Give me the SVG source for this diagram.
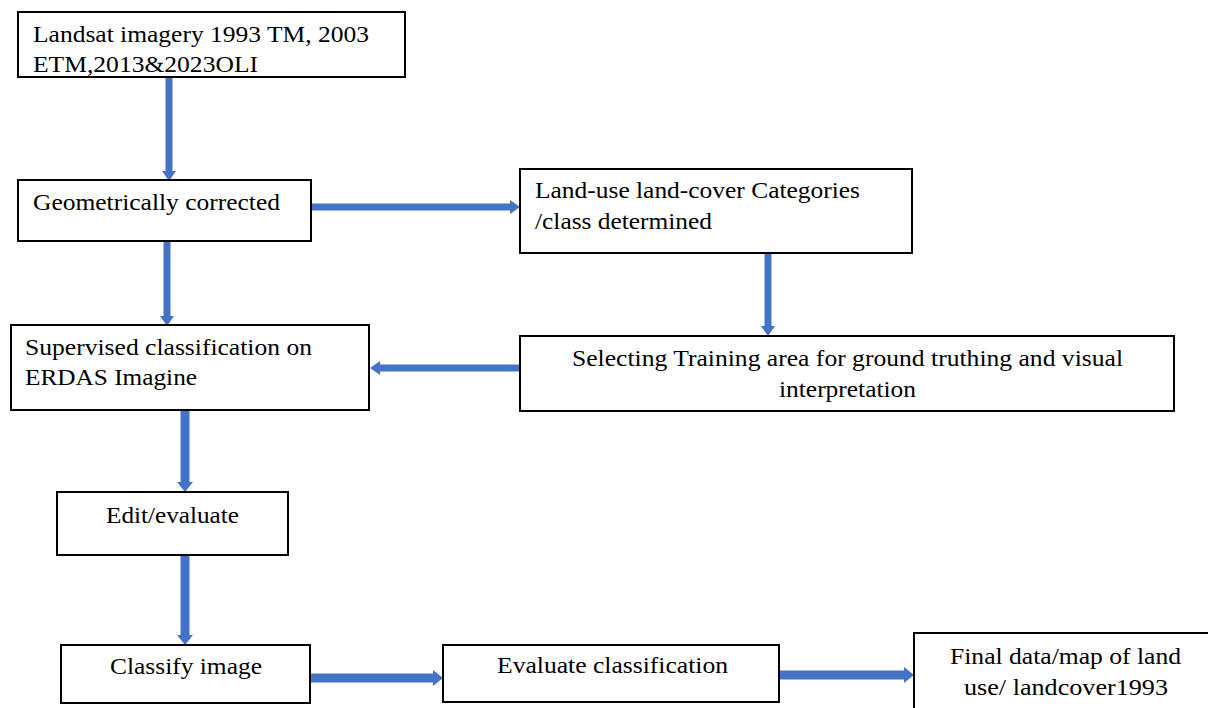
<svg xmlns="http://www.w3.org/2000/svg" width="1208" height="708" viewBox="0 0 1208 708">
<defs>
<style>
.box{fill:#fff;stroke:#000;stroke-width:2}
.t{font-family:"Liberation Serif","Times New Roman",serif;font-size:24px;fill:#000}
.c{text-anchor:middle}
.ln{stroke:#4472C4;stroke-width:7;fill:none}
.hd{fill:#4472C4}
</style>
</defs>
<rect width="1208" height="708" fill="#fff"/>
<g id="connectors">
<line class="ln" x1="169" y1="77" x2="169" y2="172"/><polygon class="hd" points="162,171 176,171 169,181"/>
<line class="ln" x1="311" y1="207" x2="511" y2="207"/><polygon class="hd" points="510,200 510,214 520,207"/>
<line class="ln" x1="768" y1="253" x2="768" y2="327"/><polygon class="hd" points="761,326 775,326 768,336"/>
<line class="ln" x1="520" y1="368" x2="379" y2="368"/><polygon class="hd" points="380,361 380,375 370,368"/>
<line class="ln" x1="167" y1="241" x2="167" y2="317"/><polygon class="hd" points="160,316 174,316 167,326"/>
<line class="ln" style="stroke-width:9" x1="185" y1="410" x2="185" y2="483"/><polygon class="hd" points="177,482 193,482 185,492"/>
<line class="ln" style="stroke-width:9" x1="185" y1="555" x2="185" y2="636"/><polygon class="hd" points="177,635 193,635 185,645"/>
<line class="ln" style="stroke-width:9" x1="310" y1="678" x2="434" y2="678"/><polygon class="hd" points="433,670 433,686 443,678"/>
<line class="ln" style="stroke-width:9" x1="779" y1="675" x2="905" y2="675"/><polygon class="hd" points="904,667 904,683 914,675"/>
</g>
<g id="n1"><rect class="box" x="18" y="12" width="387" height="65"/><text class="t" x="33" y="42" textLength="336" lengthAdjust="spacingAndGlyphs">Landsat imagery 1993 TM, 2003</text><text class="t" x="33" y="72" textLength="225" lengthAdjust="spacingAndGlyphs">ETM,2013&amp;2023OLI</text></g>
<g id="n2"><rect class="box" x="18" y="180" width="293" height="61"/><text class="t" x="33" y="210" textLength="247" lengthAdjust="spacingAndGlyphs">Geometrically corrected</text></g>
<g id="n3"><rect class="box" x="520" y="169" width="392" height="84"/><text class="t" x="535" y="198" textLength="325" lengthAdjust="spacingAndGlyphs">Land-use land-cover Categories</text><text class="t" x="535" y="229" textLength="177" lengthAdjust="spacingAndGlyphs">/class determined</text></g>
<g id="n4"><rect class="box" x="520" y="336" width="654" height="75"/><text class="t c" x="847.5" y="366" textLength="551" lengthAdjust="spacingAndGlyphs">Selecting Training area for ground truthing and visual</text><text class="t c" x="847.5" y="397" textLength="137" lengthAdjust="spacingAndGlyphs">interpretation</text></g>
<g id="n5"><rect class="box" x="11" y="325" width="358" height="85"/><text class="t" x="25" y="355" textLength="287" lengthAdjust="spacingAndGlyphs">Supervised classification on</text><text class="t" x="25" y="385" textLength="172" lengthAdjust="spacingAndGlyphs">ERDAS Imagine</text></g>
<g id="n6"><rect class="box" x="57" y="492" width="231" height="63"/><text class="t c" x="172.5" y="523" textLength="133" lengthAdjust="spacingAndGlyphs">Edit/evaluate</text></g>
<g id="n7"><rect class="box" x="61" y="645" width="249" height="58"/><text class="t c" x="186" y="674" textLength="152" lengthAdjust="spacingAndGlyphs">Classify image</text></g>
<g id="n8"><rect class="box" x="443" y="645" width="336" height="57"/><text class="t c" x="612.5" y="673" textLength="231" lengthAdjust="spacingAndGlyphs">Evaluate classification</text></g>
<g id="n9"><rect class="box" x="914" y="633" width="300" height="80"/><text class="t c" x="1065.5" y="664" textLength="231" lengthAdjust="spacingAndGlyphs">Final data/map of land</text><text class="t c" x="1066" y="695" textLength="204" lengthAdjust="spacingAndGlyphs">use/ landcover1993</text></g>
</svg>
